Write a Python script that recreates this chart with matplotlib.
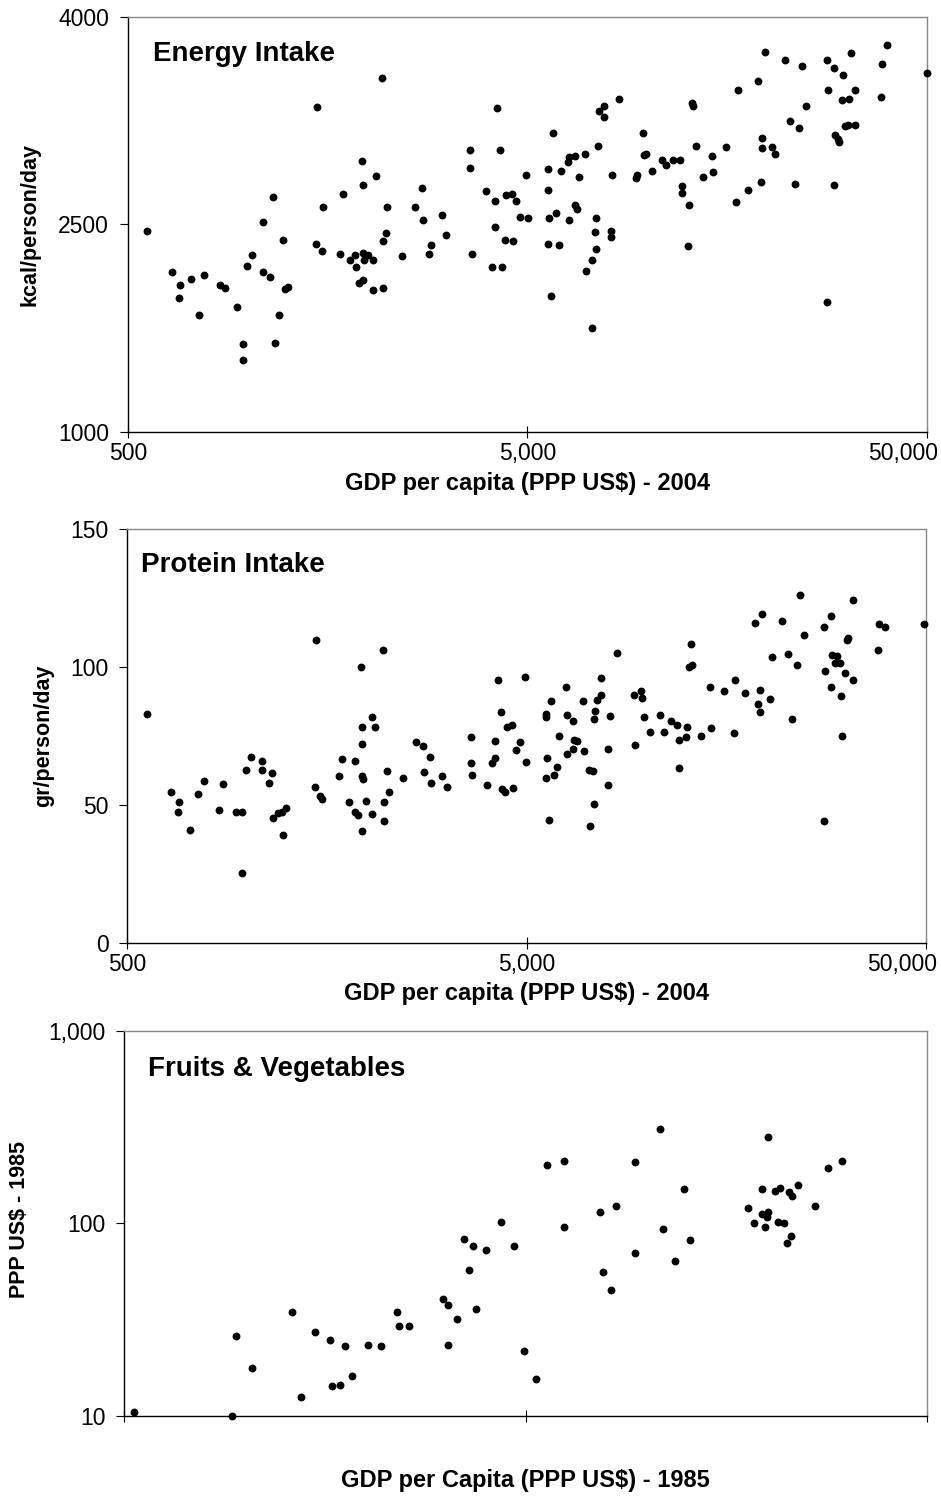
#!/usr/bin/env python3
"""Three scatter panels: energy, protein and fruit/veg spending vs GDP per capita."""
import matplotlib
matplotlib.use("Agg")
import matplotlib.pyplot as plt
from matplotlib.ticker import NullLocator
from matplotlib.transforms import ScaledTranslation

plt.rcParams["font.family"] = ["Liberation Sans", "DejaVu Sans"]

# ---- Energy intake (kcal/person/day) vs GDP per capita 2004 ----
energy_gdp = [
    558, 643, 675, 670, 721, 751, 776, 851, 873, 939, 970, 970, 995, 1020,
    1088, 1088, 1135, 1153, 1164, 1194, 1222, 1236, 1256, 1490, 1479, 1528,
    1539, 1730, 1698, 1799, 1862, 1854, 1923, 1937, 1941, 1953, 1991, 1892,
    1941, 2055, 2055, 2085, 2160, 2178, 2213, 2229, 2178, 2427, 2609, 2723,
    2743, 2860, 2831, 3055, 3132, 3597, 3597, 3624, 3939, 4139, 4205, 4278,
    4139, 4077, 4322, 4388, 4606, 4424, 4575, 4690, 4778,
    5010, 4966, 5614, 5614, 5653, 5614, 5712, 5805, 5907, 5998, 6057, 6310,
    6372, 6580, 6356, 6580, 6640, 6730, 6967, 7016, 7245, 7245, 7379, 7430,
    7430, 7493, 7550, 7762, 7762, 8074, 8074, 8140, 8480, 9350, 9425, 9733,
    9815, 9930, 10240, 10860, 11120, 11580, 12020, 12170, 12170, 12700,
    12610, 12890, 13010, 13250, 13770, 14490, 14590, 15740, 16670, 16800,
    17790, 18840, 19190, 19330, 19330, 19660, 20470, 20800, 22030, 22760,
    23350, 23940, 24360, 24930, 28040, 28040, 28270, 29200, 29200, 29430,
    29880, 30170, 30660, 30900, 31210, 31670, 31980, 32220, 33030, 33030,
    38310, 38610, 39640, 49890,
]
energy_kcal = [
    2456, 2156, 2060, 1968, 2108, 1843, 2137, 2060, 2043, 1901, 1636, 1523,
    2201, 2276, 2521, 2156, 2117, 2701, 1646, 1843, 2389, 2033, 2050, 3351,
    2360, 2305, 2625, 2718, 2286, 2240, 2192, 2276, 2956, 2786, 2295, 2245,
    2276, 2079, 2096, 2240, 2024, 2850, 3557, 2384, 2437, 2625, 2040, 2269,
    2625, 2766, 2531, 2353, 2286, 2569, 2427, 3040, 2908, 2286, 2740, 2673,
    3341, 3040, 2485, 2192, 2192, 2389, 2379, 2711, 2721, 2673, 2557,
    2550, 2860, 2899, 2747, 2550, 2360, 1985, 3163, 2581, 2353, 2889, 2949,
    2985, 2992, 2533, 2644, 2615, 2843, 3012, 2165, 2240, 1749, 2447, 2550,
    2324, 3069, 3322, 3360, 3276, 2456, 2411, 2860, 3408, 2834, 2860, 3163,
    3002, 3012, 2889, 2966, 2927, 2966, 2966, 2776, 2730, 2644, 2343, 3379,
    3360, 3069, 2843, 2992, 2879, 3057, 2663, 3473, 2747, 3538, 2805, 3125,
    3050, 3747, 3057, 3012, 3689, 3247, 2795, 3199, 3644, 3360, 3689, 1937,
    3473, 3634, 2786, 3144, 3115, 3096, 3399, 3577, 3209, 3218, 3408, 3738,
    3473, 3218, 3425, 3663, 3795, 3596,
]

# ---- Protein intake (gr/person/day) vs GDP per capita 2004 ----
protein_gdp = [
    560, 643, 674, 668, 719, 750, 777, 849, 869, 934, 968, 968, 993, 1019,
    1087, 1087, 1134, 1152, 1158, 1190, 1220, 1230, 1251, 1485, 1473, 1518,
    1534, 1691, 1724, 1795, 1855, 1855, 1887, 1935, 1935, 1918, 1935, 1949,
    1935, 1981, 2051, 2081, 2051, 2183, 2199, 2199, 2233, 2255, 2445, 2633,
    2742, 2859, 2762, 2882, 3076, 3155, 3624, 3624, 3650, 3972, 4241, 4305,
    4168, 4173, 4090, 4336, 4417, 4449, 4596, 4629, 4701, 4810,
    4937, 4977, 5570, 5570, 5625, 5570, 5670, 5765, 5866, 5957, 6014, 6264,
    6310, 6310, 6517, 6517, 6566, 6690, 6905, 6969, 7147, 7312, 7368, 7424,
    7368, 7190, 7497, 7686, 7686, 8000, 8000, 8070, 8400, 9280, 9356, 9664,
    9738, 9815, 10160, 10770, 11020, 11470, 11870, 12040, 12040, 12520,
    12590, 12760, 12980, 12890, 13650, 14350, 14460, 15590, 16510, 16650,
    17630, 18670, 19450, 19160, 18970, 19160, 20290, 20590, 21810, 22590,
    23120, 23720, 24130, 24700, 27680, 27940, 27680, 28860, 28860, 29080,
    29810, 29580, 30330, 30580, 30810, 31350, 31590, 31900, 32710, 32710,
    37880, 38100, 39340, 49350,
]
protein_gr = [
    83.1, 54.7, 51.0, 47.6, 41.0, 53.8, 58.5, 48.1, 57.5, 47.6, 47.6, 25.4,
    62.8, 67.5, 66.1, 62.8, 58.0, 61.4, 45.3, 46.9, 47.4, 39.1, 49.0, 109.7,
    56.5, 53.3, 52.3, 60.4, 66.6, 51.0, 66.1, 47.6, 46.3, 72.2, 78.4, 99.8,
    60.4, 59.4, 40.6, 51.3, 81.8, 78.4, 46.6, 106.3, 51.0, 44.3, 62.3, 54.7,
    59.9, 72.7, 71.3, 67.5, 61.9, 58.0, 60.4, 56.5, 74.5, 65.1, 60.9, 57.1,
    95.4, 83.6, 73.2, 67.0, 65.1, 55.7, 54.7, 78.4, 78.9, 56.2, 69.9, 72.7,
    96.4, 65.6, 83.1, 81.8, 67.0, 59.9, 44.7, 87.8, 60.9, 63.7, 75.1, 92.6,
    82.6, 68.5, 80.3, 70.3, 73.7, 73.2, 87.5, 69.5, 62.8, 62.3, 81.3, 84.1,
    50.5, 42.4, 87.9, 89.8, 95.9, 70.3, 57.1, 82.1, 105.0, 89.8, 71.8, 91.2,
    88.8, 81.7, 76.6, 82.7, 76.6, 80.3, 78.9, 73.7, 63.3, 74.7, 78.4, 99.8,
    100.6, 108.2, 75.1, 92.6, 77.9, 91.2, 76.1, 95.4, 90.7, 115.8, 119.1,
    91.7, 86.5, 83.6, 88.3, 103.5, 116.8, 104.8, 81.3, 100.6, 126.2, 111.5,
    114.4, 98.7, 44.3, 118.6, 92.6, 104.4, 103.9, 101.6, 101.6, 89.3, 75.1,
    97.8, 109.6, 110.5, 95.4, 124.3, 106.3, 115.4, 114.4, 115.4,
]

# ---- Fruits & vegetables spending (PPP US$ 1985) vs GDP per capita 1985 ----
fv_gdp = [
    106, 186, 190, 208, 262, 275, 298, 326, 329, 345, 355, 369, 404, 435,
    478, 484, 512, 622, 639, 639, 676, 702, 721, 738, 752, 796, 868, 937,
    993, 1061, 1133, 1248, 1248, 1529, 1559, 1636, 1677, 1877, 1877, 2161,
    2195, 2360, 2476, 2563, 3587, 3707, 3889, 3874, 3956, 3987, 4025, 4018,
    4182, 4304, 4247, 4404, 4541, 4620, 4585, 4472, 4780, 5260, 5669, 6153,
]
fv_spend = [
    10.4, 10.0, 26.0, 17.6, 34.6, 12.5, 27.3, 24.8, 14.3, 14.5, 23.0, 16.0,
    23.4, 23.0, 34.6, 29.1, 29.1, 40.4, 37.8, 23.4, 31.9, 82.7, 56.9, 76.4,
    35.7, 72.8, 101.4, 76.4, 21.6, 15.6, 201.4, 211.2, 95.1, 114.7, 56.0,
    45.0, 122.3, 207.8, 69.7, 307.2, 93.6, 63.6, 149.9, 81.4, 120.4, 99.8,
    149.9, 111.6, 95.1, 108.1, 114.7, 280.3, 147.5, 152.3, 101.4, 99.8,
    145.2, 138.4, 85.4, 79.2, 157.2, 122.3, 192.7, 211.2,
]

GDP_TICKS = [500, 5000, 50000]
GDP_LABELS = ["500", "5,000", "50,000"]


def style_axes(ax):
    ax.spines["left"].set_color("black")
    ax.spines["bottom"].set_color("black")
    ax.spines["top"].set_color("#888888")
    ax.spines["right"].set_color("#888888")
    for s in ax.spines.values():
        s.set_linewidth(1.0)
    ax.xaxis.set_minor_locator(NullLocator())
    ax.yaxis.set_minor_locator(NullLocator())
    ax.tick_params(axis="y", direction="out", length=5.5, width=0.8,
                   labelsize=16.5, pad=8)
    ax.tick_params(axis="x", direction="inout", length=8, width=0.8,
                   labelsize=16.5, pad=3)


def panel(ax, x, y, title, title_xy):
    ax.scatter(x, y, s=32, c="black", linewidths=0, clip_on=False, zorder=3)
    ax.text(title_xy[0], title_xy[1], title, transform=ax.transAxes,
            fontsize=20, fontweight="bold", va="baseline", ha="left")
    style_axes(ax)


def gdp_axis(ax, fig):
    ax.set_xlim(500, 50000)
    ax.set_xticks(GDP_TICKS, GDP_LABELS)
    # Excel nudges the last label inwards so it stays on the page
    last = ax.get_xticklabels()[-1]
    last.set_transform(last.get_transform()
                       + ScaledTranslation(-0.24, 0, fig.dpi_scale_trans))


fig = plt.figure(figsize=(9.41, 15.01), dpi=100)

ax1 = fig.add_axes([0.136, 0.7122, 0.849, 0.2765])
ax1.set_xscale("log")
panel(ax1, energy_gdp, energy_kcal, "Energy Intake", (0.031, 0.895))
gdp_axis(ax1, fig)
ax1.set_ylim(1000, 4000)
ax1.set_yticks([1000, 2500, 4000], ["1000", "2500", "4000"])
ax1.set_xlabel("GDP per capita (PPP US$) - 2004", fontsize=17, fontweight="bold")
ax1.xaxis.set_label_coords(0.5, -0.123)
ax1.xaxis.label.set_va("center")
ax1.set_ylabel("kcal/person/day", fontsize=15.5, fontweight="bold")
ax1.yaxis.set_label_coords(-0.1227, 0.5)
ax1.yaxis.label.set_va("center")

ax2 = fig.add_axes([0.1353, 0.3718, 0.849, 0.2758])
ax2.set_xscale("log")
panel(ax2, protein_gdp, protein_gr, "Protein Intake", (0.017, 0.897))
gdp_axis(ax2, fig)
ax2.set_ylim(0, 150)
ax2.set_yticks([0, 50, 100, 150], ["0", "50", "100", "150"])
ax2.set_xlabel("GDP per capita (PPP US$) - 2004", fontsize=17, fontweight="bold")
ax2.xaxis.set_label_coords(0.5, -0.121)
ax2.xaxis.label.set_va("center")
ax2.set_ylabel("gr/person/day", fontsize=15.5, fontweight="bold")
ax2.yaxis.set_label_coords(-0.105, 0.5)
ax2.yaxis.label.set_va("center")

ax3 = fig.add_axes([0.1321, 0.0568, 0.853, 0.2565])
ax3.set_xscale("log")
ax3.set_yscale("log")
panel(ax3, fv_gdp, fv_spend, "Fruits & Vegetables", (0.030, 0.883))
ax3.set_xlim(100, 10000)
ax3.set_ylim(10, 1000)
ax3.set_xticks([100, 1000, 10000], ["", "", ""])
ax3.set_yticks([10, 100, 1000], ["10", "100", "1,000"])
ax3.set_xlabel("GDP per Capita (PPP US$) - 1985", fontsize=17, fontweight="bold")
ax3.xaxis.set_label_coords(0.5, -0.167)
ax3.xaxis.label.set_va("center")
ax3.set_ylabel("PPP US$ - 1985", fontsize=15.5, fontweight="bold")
ax3.yaxis.set_label_coords(-0.131, 0.51)
ax3.yaxis.label.set_va("center")

fig.savefig("out.png", dpi=100, facecolor="white")
plt.close(fig)
